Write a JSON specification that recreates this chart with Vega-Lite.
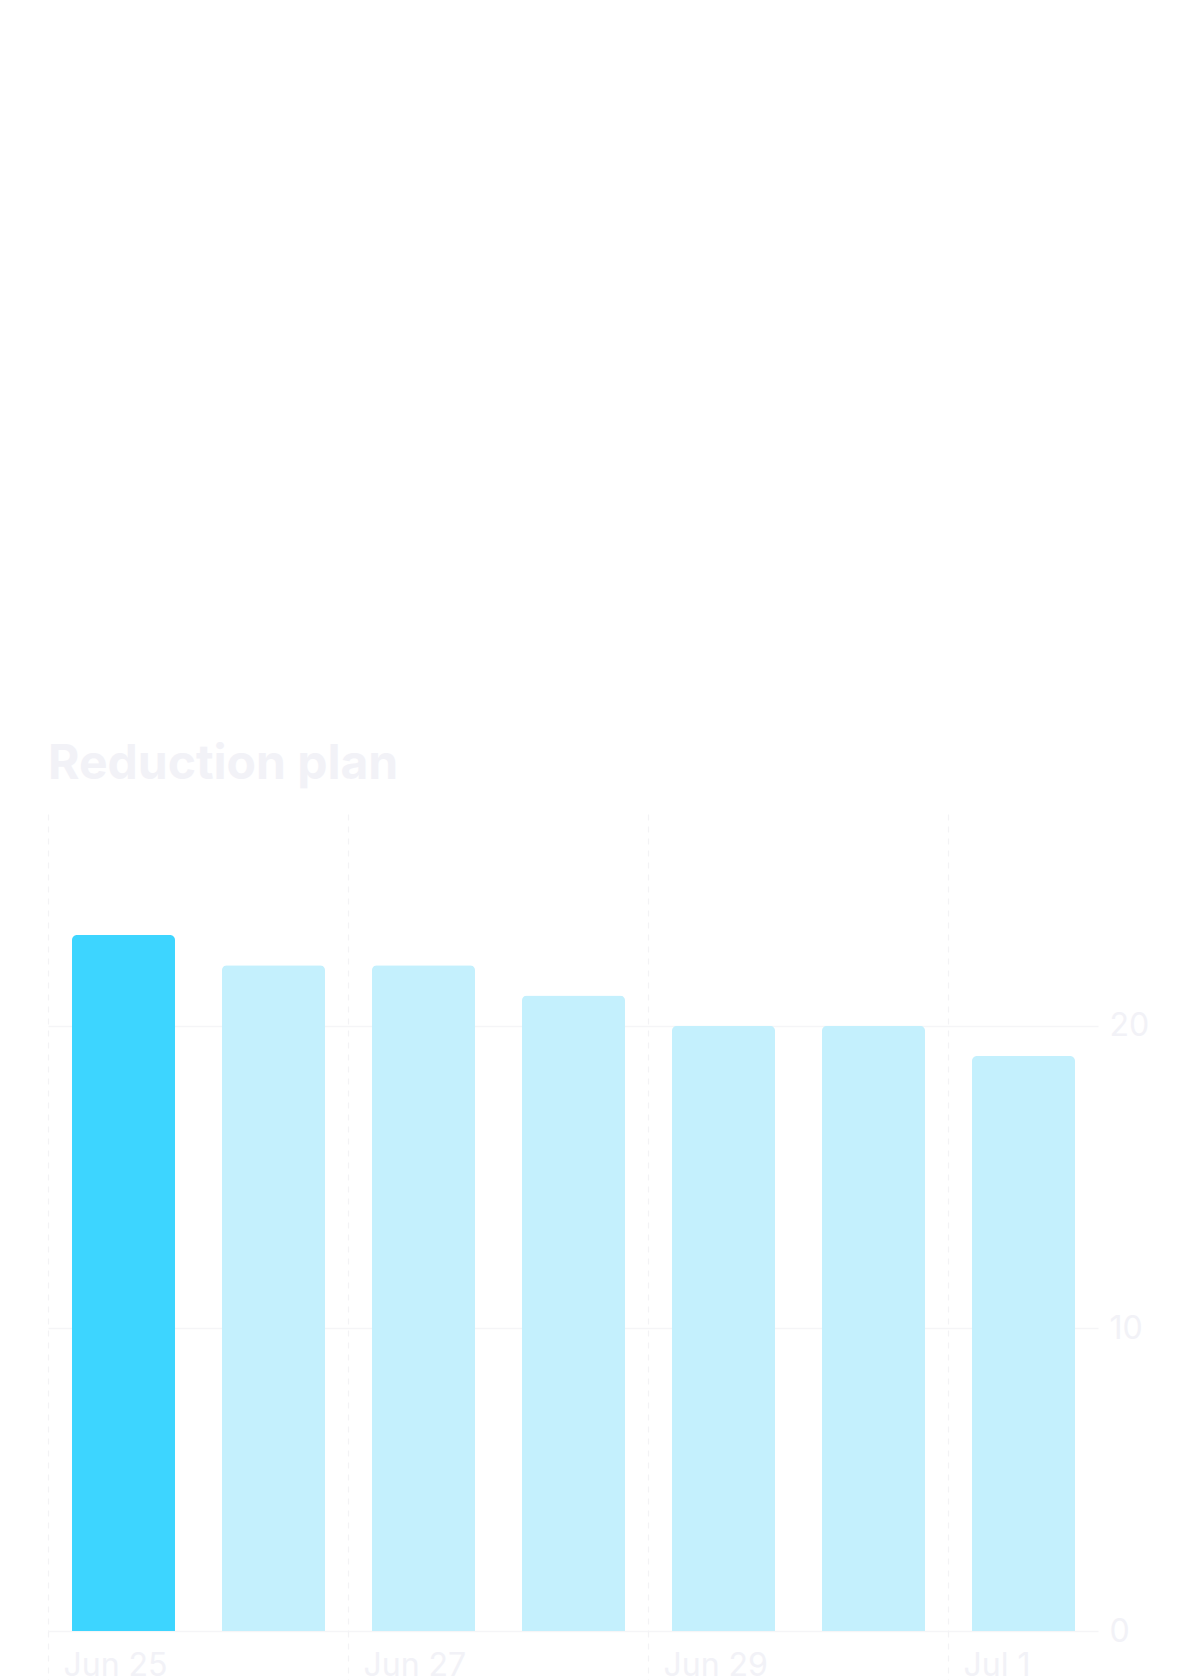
{
  "$schema": "https://vega.github.io/schema/vega-lite/v6.json",
  "autosize": {"type": "none"},
  "width": 1050,
  "height": 817,
  "padding": {"left": 48, "top": 814, "right": 102, "bottom": 49},
  "background": "#ffffff",
  "title": {
    "text": "Reduction plan",
    "anchor": "start",
    "frame": "group",
    "orient": "top",
    "baseline": "alphabetic",
    "offset": -13,
    "font": "Inter",
    "fontSize": 48,
    "fontWeight": "bold",
    "color": "#F2F2F7"
  },
  "config": {
    "view": {"stroke": null},
    "font": "Inter"
  },
  "data": {
    "values": [
      {"date": "2024-06-25", "value": 23, "highlight": "yes"},
      {"date": "2024-06-26", "value": 22, "highlight": "no"},
      {"date": "2024-06-27", "value": 22, "highlight": "no"},
      {"date": "2024-06-28", "value": 21, "highlight": "no"},
      {"date": "2024-06-29", "value": 20, "highlight": "no"},
      {"date": "2024-06-30", "value": 20, "highlight": "no"},
      {"date": "2024-07-01", "value": 19, "highlight": "no"}
    ]
  },
  "mark": {
    "type": "bar",
    "width": {"band": 0.6933},
    "cornerRadiusTopLeft": 5,
    "cornerRadiusTopRight": 5
  },
  "encoding": {
    "x": {
      "field": "date",
      "type": "temporal",
      "timeUnit": "utcyearmonthdate",
      "scale": {
        "type": "utc",
        "domain": [
          {"year": 2024, "month": 6, "date": 25, "utc": true},
          {"year": 2024, "month": 7, "date": 2, "utc": true}
        ]
      },
      "axis": {
        "title": null,
        "values": [
          {"year": 2024, "month": 6, "date": 25, "utc": true},
          {"year": 2024, "month": 6, "date": 27, "utc": true},
          {"year": 2024, "month": 6, "date": 29, "utc": true},
          {"year": 2024, "month": 7, "date": 1, "utc": true}
        ],
        "format": "%b %-d",
        "domain": false,
        "grid": true,
        "gridColor": "#F3F3F5",
        "gridDash": [6, 6],
        "gridWidth": 1.2,
        "ticks": true,
        "tickSize": 49,
        "tickColor": "#F3F3F5",
        "tickDash": [6, 6],
        "tickWidth": 1.2,
        "labelAlign": "left",
        "labelBaseline": "alphabetic",
        "labelPadding": -5,
        "labelOffset": 15,
        "labelFontSize": 32,
        "labelColor": "#F2F2F7",
        "labelFont": "Inter"
      }
    },
    "y": {
      "field": "value",
      "type": "quantitative",
      "scale": {"domain": [0, 27], "nice": false},
      "axis": {
        "orient": "right",
        "title": null,
        "values": [0, 10, 20],
        "domain": false,
        "ticks": false,
        "grid": true,
        "gridColor": "#F5F5F7",
        "gridWidth": 1.5,
        "labelPadding": 11,
        "labelFontSize": 32,
        "labelColor": "#F2F2F7",
        "labelFont": "Inter"
      }
    },
    "color": {
      "field": "highlight",
      "type": "nominal",
      "scale": {"domain": ["yes", "no"], "range": ["#3DD5FF", "#C4F0FD"]},
      "legend": null
    }
  }
}
